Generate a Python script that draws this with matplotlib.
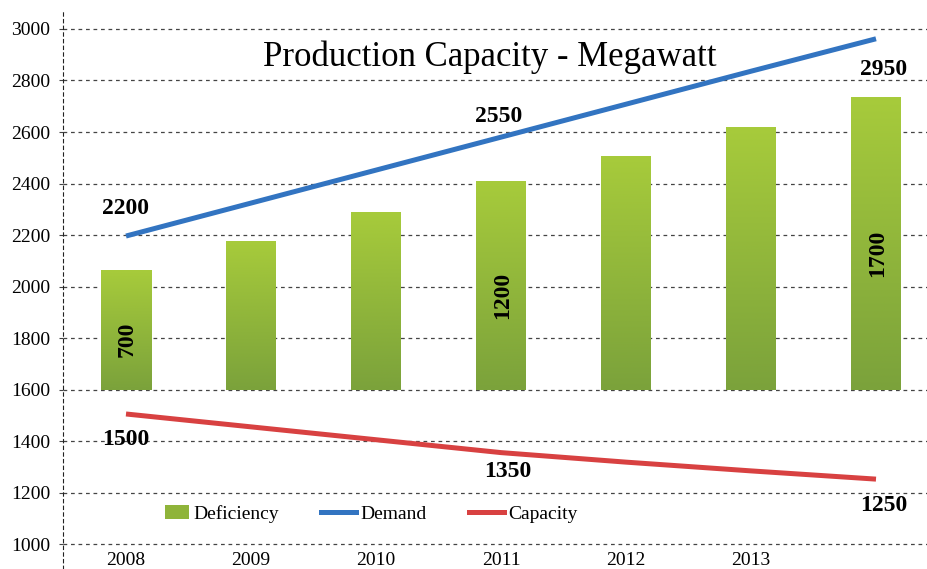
import numpy as np
import matplotlib.pyplot as plt
from matplotlib.patches import Patch, Rectangle
from matplotlib.lines import Line2D
from matplotlib.legend_handler import HandlerPatch
from matplotlib.colors import LinearSegmentedColormap

plt.rcParams['font.family'] = ['Liberation Serif', 'DejaVu Serif']

years = ['2008', '2009', '2010', '2011', '2012', '2013', '']
bar_top = [2064, 2177, 2289, 2410, 2507, 2619, 2736]
bar_base = 1600
demand = [2196, 2324, 2452, 2580, 2708, 2836, 2962]
capacity = [1505, 1455, 1405, 1355, 1318, 1284, 1252]
bar_labels = {0: '700', 3: '1200', 6: '1700'}
demand_labels = {0: '2200', 3: '2550', 6: '2950'}
capacity_labels = {0: '1500', 3: '1350', 6: '1250'}

fig = plt.figure(figsize=(9.28, 5.69), dpi=100)
ax = fig.add_axes([63 / 928, 0, 1 - 63 / 928, (569 - 12) / 569])
x = np.arange(len(bar_top))

# grid
ax.set_yticks(np.arange(1000, 3001, 200))
ax.yaxis.grid(True, linestyle=(0, (3, 3)), color='#444444', lw=0.9)
ax.set_axisbelow(True)
for s in ['top', 'right', 'bottom']:
    ax.spines[s].set_visible(False)
ax.spines['left'].set_linestyle((0, (3, 3)))
ax.spines['left'].set_color('#222222')
ax.tick_params(axis='y', length=3, color='#444444', labelsize=14, pad=6)
ax.set_xticks([])

# bars with vertical gradient
bars = ax.bar(x, np.array(bar_top) - bar_base, bottom=bar_base, width=0.4,
              color='#8fb43a', zorder=2)
grad = np.linspace(0, 1, 256).reshape(-1, 1)
cmap = LinearSegmentedColormap.from_list('g', ['#7ba23b', '#a7cb3b'])
for b in bars:
    bx, by = b.get_x(), b.get_y()
    im = ax.imshow(grad, cmap=cmap, origin='lower', aspect='auto',
                   extent=(bx, bx + b.get_width(), by, by + b.get_height()),
                   zorder=2.5)
    im.set_clip_path(b)
ax.set_xlim(-0.504, 6.416)
ax.set_ylim(903, 3066)

ax.plot(x, demand, color='#3274c1', lw=3.6, zorder=3, solid_capstyle='butt')
ax.plot(x, capacity, color='#d84141', lw=3.6, zorder=3, solid_capstyle='butt')

bold = dict(fontsize=17, fontweight='bold', ha='center', va='center', zorder=5)
d_off = {0: (0.0, 105), 3: (-0.02, 82), 6: (0.06, -121)}
for i, t in demand_labels.items():
    ax.text(x[i] + d_off[i][0], demand[i] + d_off[i][1], t, **bold)
c_off = {0: (0.0, -101), 3: (0.055, -75), 6: (0.06, -104)}
for i, t in capacity_labels.items():
    ax.text(x[i] + c_off[i][0], capacity[i] + c_off[i][1], t, **bold)
for i, t in bar_labels.items():
    mid = (bar_base + bar_top[i]) / 2
    ax.text(x[i] + 0.01, mid - 38, t, rotation=90, **bold)

for i, t in enumerate(years):
    ax.text(x[i], 937, t, fontsize=14, ha='center', va='center')

ax.text(0.528, 1 - 57 / 569, 'Production Capacity - Megawatt',
        transform=fig.transFigure, fontsize=25, ha='center', va='center')


def small_patch(legend, orig_handle, xdescent, ydescent, width, height, fontsize):
    return Rectangle((-xdescent + width * 0.3, -ydescent), width * 0.7, height)


handles = [Patch(facecolor='#8fb43a'),
           Line2D([], [], color='#3274c1', lw=3.6),
           Line2D([], [], color='#d84141', lw=3.6)]
ax.legend(handles, ['Deficiency', 'Demand', 'Capacity'], ncol=3, frameon=False,
          loc='center left', bbox_to_anchor=(0.085, 0.099), fontsize=14,
          handlelength=1.8, handletextpad=0.2, columnspacing=2.2,
          handler_map={Patch: HandlerPatch(patch_func=small_patch)})

fig.savefig('out.png', dpi=100)
